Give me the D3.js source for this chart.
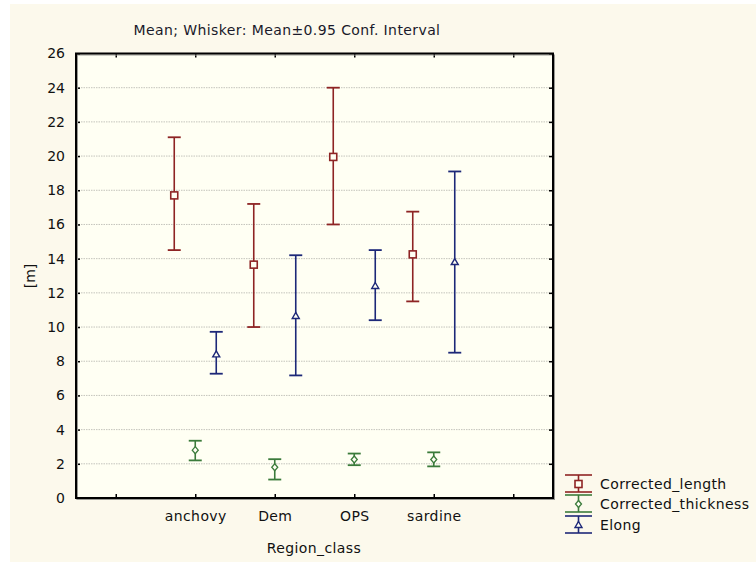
<!DOCTYPE html>
<html>
<head>
<meta charset="utf-8">
<script src="https://cdn.jsdelivr.net/npm/d3@7"></script>
<style>
  body { margin: 0; background: #ffffff; }
  svg { display: block; font-family: "DejaVu Sans", Verdana, sans-serif; }
</style>
</head>
<body>
<svg id="chart" width="756" height="562"></svg>
<script>
// categories and series (mean, lower, upper of 0.95 conf. interval)
const categories = ["anchovy", "Dem", "OPS", "sardine"];
const seriesNames = ["Corrected_length", "Corrected_thickness", "Elong"];

const lengthMean = [17.7, 13.65, 19.95, 14.25];
const lengthLow  = [14.5, 10.0, 16.0, 11.5];
const lengthHigh = [21.1, 17.2, 24.0, 16.75];

const thickMean = [2.8, 1.8, 2.25, 2.25];
const thickLow  = [2.2, 1.08, 1.92, 1.85];
const thickHigh = [3.35, 2.27, 2.6, 2.67];

const elongMean = [8.4, 10.65, 12.4, 13.8];
const elongLow  = [7.27, 7.17, 10.4, 8.5];
const elongHigh = [9.72, 14.2, 14.5, 19.1];

const yTicks = d3.range(0, 27, 2);

const colors = ["#8e2424", "#3b7b3b", "#1d2878"];
const offsets = [-21, 0, 21];
const fontFam = "DejaVu Sans, Verdana, sans-serif";
const fontSize = 14;
const spacing = "0.4px";

const svg = d3.select("#chart");

// backgrounds
svg.append("rect").attr("x", 10).attr("y", 4).attr("width", 746).attr("height", 558).attr("fill", "#fcf9ec");

const plotLeft = 76, plotRight = 553, plotTop = 53.5, plotBottom = 498;

svg.append("rect")
  .attr("x", plotLeft).attr("y", plotTop)
  .attr("width", plotRight - plotLeft).attr("height", plotBottom - plotTop)
  .attr("fill", "#fffff3");

const x = d3.scaleLinear().domain([-0.5, 5.5]).range([plotLeft, plotRight]);
const y = d3.scaleLinear().domain([0, 26]).range([plotBottom, plotTop]);

// grid lines
svg.append("g")
  .selectAll("line")
  .data(yTicks.filter(d => d > 0 && d < 26))
  .enter()
  .append("line")
  .attr("x1", plotLeft).attr("x2", plotRight)
  .attr("y1", d => y(d)).attr("y2", d => y(d))
  .attr("stroke", "#c4c4bc")
  .attr("stroke-width", 1)
  .attr("stroke-dasharray", "1.5,1");

// y axis labels and ticks
const yAxis = d3.axisLeft(y).tickValues(yTicks).tickSize(-4).tickPadding(11);
const gy = svg.append("g").attr("transform", `translate(${plotLeft},0)`).call(yAxis);
gy.select(".domain").remove();
gy.selectAll("line").attr("stroke", "#000").attr("stroke-width", 1.5);
gy.selectAll("text").attr("font-size", fontSize).attr("fill", "#111").attr("font-family", fontFam);

const yAxisR = d3.axisRight(y).tickValues(yTicks).tickSize(-4).tickFormat("");
const gyr = svg.append("g").attr("transform", `translate(${plotRight},0)`).call(yAxisR);
gyr.select(".domain").remove();
gyr.selectAll("line").attr("stroke", "#000").attr("stroke-width", 1.5);

// x axis ticks
const xTickVals = d3.range(0, 6);
const xAxis = d3.axisBottom(x).tickValues(xTickVals).tickSize(-4).tickPadding(13)
  .tickFormat(d => (d >= 1 && d <= 4) ? categories[d - 1] : "");
const gx = svg.append("g").attr("transform", `translate(0,${plotBottom})`).call(xAxis);
gx.select(".domain").remove();
gx.selectAll("line").attr("stroke", "#000").attr("stroke-width", 1.5);
gx.selectAll("text").attr("font-size", fontSize).attr("fill", "#111").attr("font-family", fontFam)
  .attr("letter-spacing", spacing);

const xAxisT = d3.axisTop(x).tickValues(xTickVals).tickSize(-4).tickFormat("");
const gxt = svg.append("g").attr("transform", `translate(0,${plotTop})`).call(xAxisT);
gxt.select(".domain").remove();
gxt.selectAll("line").attr("stroke", "#000").attr("stroke-width", 1.5);

// frame with slight shadow
svg.append("rect")
  .attr("x", plotLeft + 1.5).attr("y", plotTop + 1.5)
  .attr("width", plotRight - plotLeft).attr("height", plotBottom - plotTop)
  .attr("fill", "none").attr("stroke", "#9a9a94").attr("stroke-width", 1);
svg.append("rect")
  .attr("x", plotLeft).attr("y", plotTop)
  .attr("width", plotRight - plotLeft).attr("height", plotBottom - plotTop)
  .attr("fill", "none").attr("stroke", "#000").attr("stroke-width", 2);

// error bars
const seriesData = [
  { mean: lengthMean, low: lengthLow, high: lengthHigh, marker: "square" },
  { mean: thickMean, low: thickLow, high: thickHigh, marker: "diamond" },
  { mean: elongMean, low: elongLow, high: elongHigh, marker: "triangle" }
];

function drawMarker(g, type, cx, cy, color) {
  if (type === "square") {
    g.append("rect").attr("x", cx - 3.5).attr("y", cy - 3.5).attr("width", 7).attr("height", 7)
      .attr("fill", "#fffff3").attr("stroke", color).attr("stroke-width", 1.6);
  } else if (type === "diamond") {
    g.append("path").attr("d", `M${cx},${cy - 3.5}L${cx + 3},${cy}L${cx},${cy + 3.5}L${cx - 3},${cy}Z`)
      .attr("fill", "#fffff3").attr("stroke", color).attr("stroke-width", 1.3);
  } else {
    g.append("path").attr("d", `M${cx},${cy - 3.5}L${cx + 3.5},${cy + 2.5}L${cx - 3.5},${cy + 2.5}Z`)
      .attr("fill", "#fffff3").attr("stroke", color).attr("stroke-width", 1.4);
  }
}

const bars = svg.append("g");
seriesData.forEach((s, si) => {
  categories.forEach((c, ci) => {
    const cx = x(ci + 1) + offsets[si];
    const g = bars.append("g");
    g.append("line").attr("x1", cx).attr("x2", cx)
      .attr("y1", y(s.high[ci])).attr("y2", y(s.low[ci]))
      .attr("stroke", colors[si]).attr("stroke-width", 1.6);
    [s.high[ci], s.low[ci]].forEach(v => {
      g.append("line").attr("x1", cx - 6.5).attr("x2", cx + 6.5)
        .attr("y1", y(v)).attr("y2", y(v))
        .attr("stroke", colors[si]).attr("stroke-width", 1.8);
    });
    drawMarker(g, s.marker, cx, y(s.mean[ci]), colors[si]);
  });
});

// titles
svg.append("text").attr("x", 287).attr("y", 35).attr("text-anchor", "middle")
  .attr("font-size", fontSize).attr("fill", "#1a1a2a").attr("font-family", fontFam)
  .attr("letter-spacing", spacing)
  .text("Mean; Whisker: Mean\u00b10.95 Conf. Interval");

svg.append("text").attr("transform", "translate(35,276) rotate(-90)")
  .attr("text-anchor", "middle").attr("font-size", fontSize).attr("fill", "#111").attr("font-family", fontFam)
  .text("[m]");

svg.append("text").attr("x", 314).attr("y", 553).attr("text-anchor", "middle")
  .attr("font-size", fontSize).attr("fill", "#111").attr("font-family", fontFam)
  .attr("letter-spacing", spacing)
  .text("Region_class");

// legend
const legendY = [484, 504, 525];
const legend = svg.append("g");
seriesNames.forEach((name, i) => {
  const cy = legendY[i];
  const lx = 578.5;
  legend.append("line").attr("x1", lx - 13.5).attr("x2", lx + 13.5).attr("y1", cy - 9).attr("y2", cy - 9)
    .attr("stroke", colors[i]).attr("stroke-width", 1.6);
  legend.append("line").attr("x1", lx - 13.5).attr("x2", lx + 13.5).attr("y1", cy + 8).attr("y2", cy + 8)
    .attr("stroke", colors[i]).attr("stroke-width", 1.6);
  legend.append("line").attr("x1", lx).attr("x2", lx).attr("y1", cy - 9).attr("y2", cy + 8)
    .attr("stroke", colors[i]).attr("stroke-width", 1.6);
  drawMarker(legend, seriesData[i].marker, lx, cy, colors[i]);
  legend.append("text").attr("x", 600).attr("y", cy + 5)
    .attr("font-size", fontSize).attr("fill", "#111").attr("font-family", fontFam)
    .attr("letter-spacing", spacing).text(name);
});
</script>
</body>
</html>
